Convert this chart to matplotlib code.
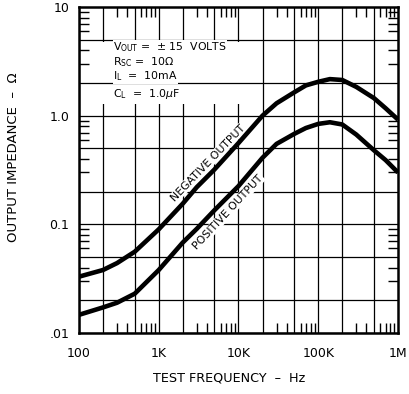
import numpy as np
import matplotlib
matplotlib.use("Agg")
import matplotlib.pyplot as plt
from matplotlib.ticker import FixedLocator, NullFormatter

# donnees
freq = [100, 200, 300, 500, 1e3, 2e3, 3e3, 5e3, 1e4, 2e4, 3e4, 5e4, 7e4, 1e5, 1.4e5, 2e5, 3e5, 5e5, 7e5, 1e6]
z_neg = [0.033, 0.038, 0.044, 0.056, 0.09, 0.155, 0.22, 0.32, 0.56, 1.0, 1.3, 1.64, 1.9, 2.05, 2.17, 2.13, 1.84, 1.45, 1.17, 0.92]
z_pos = [0.0147, 0.0172, 0.019, 0.023, 0.038, 0.068, 0.091, 0.135, 0.225, 0.41, 0.55, 0.68, 0.77, 0.84, 0.87, 0.83, 0.67, 0.48, 0.39, 0.30]

x_ticks = [100, 1e3, 1e4, 1e5, 1e6]
x_labels = ["100", "1K", "10K", "100K", "1M"]
y_ticks = [0.01, 0.1, 1.0, 10]
y_labels = [".01", "0.1", "1.0", "10"]

conditions = [r"V$_{\mathrm{OUT}}$ =  ± 15  VOLTS",
              r"R$_{\mathrm{SC}}$ =  10Ω",
              r"I$_{\mathrm{L}}$  =  10mA",
              r"C$_{\mathrm{L}}$  =  1.0$\mu$F"]

plt.rcParams['font.family'] = ['DejaVu Sans']

fig = plt.figure(figsize=(4.1, 3.94), dpi=100)
ax = fig.add_axes([0.1927, 0.1548, 0.778, 0.8274])

ax.set_xscale("log")
ax.set_yscale("log")
ax.set_xlim(100, 1e6)
ax.set_ylim(0.01, 10)

# grille 1-2-5 (verticales sous le cadre, horizontales dessus)
for d in [100, 1e3, 1e4, 1e5]:
    for m in [1, 2, 5]:
        ax.axvline(d * m, color="black", lw=0.9, zorder=1)
for d in [0.01, 0.1, 1.0]:
    for m in [1, 2, 5]:
        ax.axhline(d * m, color="black", lw=0.9, zorder=3)

# cadre blanc des conditions
ax.add_patch(plt.Rectangle((0.066, 0.702), 0.45, 0.19, transform=ax.transAxes,
                           facecolor="white", edgecolor="none", zorder=2))
for txt, yy in zip(conditions, [0.876, 0.831, 0.787, 0.733]):
    ax.text(0.107, yy, txt, transform=ax.transAxes, fontsize=7.8, va="center", ha="left", zorder=4,
            bbox=dict(facecolor="white", edgecolor="none", pad=0.3))

ax.plot(freq, z_neg, color="black", lw=3.3, solid_capstyle="butt", solid_joinstyle="round", zorder=5)
ax.plot(freq, z_pos, color="black", lw=3.3, solid_capstyle="butt", solid_joinstyle="round", zorder=5)

ax.text(4150, 0.367, "NEGATIVE OUTPUT", rotation=46, fontsize=7.8, ha="center", va="center",
        bbox=dict(facecolor="white", edgecolor="none", pad=0.5), zorder=4)
ax.text(7400, 0.13, "POSITIVE OUTPUT", rotation=47, fontsize=7.8, ha="center", va="center",
        bbox=dict(facecolor="white", edgecolor="none", pad=0.5), zorder=4)

ax.xaxis.set_major_locator(FixedLocator(x_ticks))
ax.set_xticklabels(x_labels)
ax.yaxis.set_major_locator(FixedLocator(y_ticks))
ax.set_yticklabels(y_labels)

minx = [d * m for d in [100, 1e3, 1e4, 1e5] for m in [3, 4, 6, 7, 8, 9]]
miny = [d * m for d in [0.01, 0.1, 1.0] for m in [3, 4, 6, 7, 8, 9]]
ax.xaxis.set_minor_locator(FixedLocator(minx))
ax.yaxis.set_minor_locator(FixedLocator(miny))
ax.xaxis.set_minor_formatter(NullFormatter())
ax.yaxis.set_minor_formatter(NullFormatter())

ax.tick_params(which="major", length=0, labelsize=9)
ax.tick_params(axis="x", which="major", pad=10)
ax.tick_params(axis="y", which="major", pad=7)
ax.tick_params(which="minor", direction="in", length=7, width=1.0, color="black",
               top=True, right=True, bottom=True, left=True)

for s in ax.spines.values():
    s.set_linewidth(1.8)
    s.set_zorder(6)

fig.text(0.559, 0.041, "TEST FREQUENCY  –  Hz", fontsize=9.2, ha="center", va="center")
fig.text(0.032, 0.60, "OUTPUT IMPEDANCE  –  Ω", fontsize=9.5, ha="center", va="center", rotation=90)

fig.savefig("out.png", dpi=100)
